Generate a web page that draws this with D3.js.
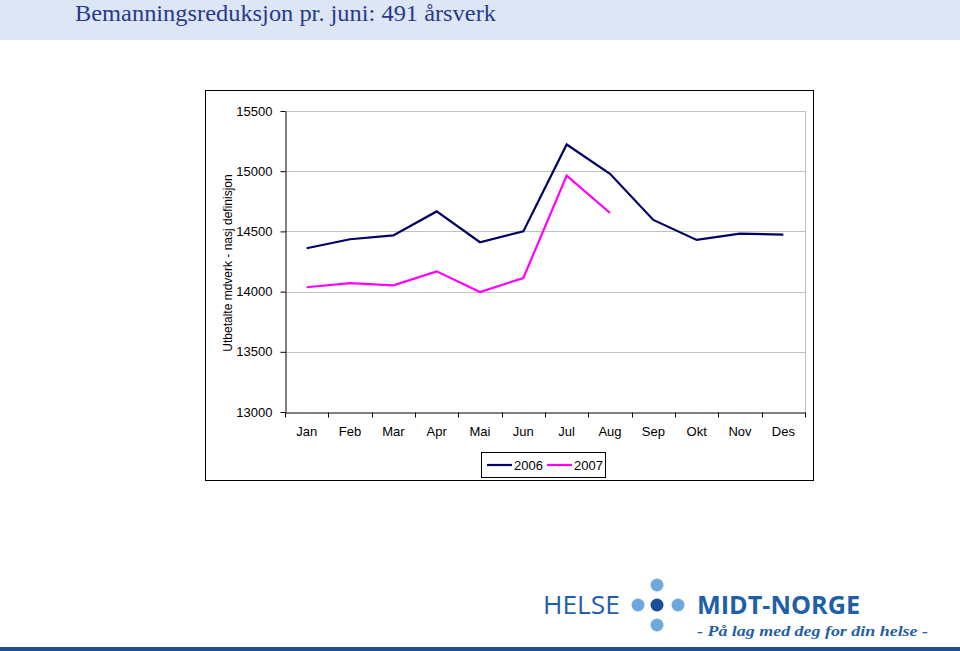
<!DOCTYPE html>
<html><head><meta charset="utf-8">
<script src="https://cdn.jsdelivr.net/npm/d3@7"></script>
<style>body{margin:0;background:#fff}svg{display:block}</style>
</head><body>
<svg id="c" width="960" height="651"></svg>
<script>
const months = ["Jan","Feb","Mar","Apr","Mai","Jun","Jul","Aug","Sep","Okt","Nov","Des"];
const values2006 = [14360,14435,14467,14666,14410,14500,15222,14978,14595,14429,14482,14473];
const values2007 = [14036,14071,14052,14168,13997,14113,14963,14653];
const yTicks = [13000,13500,14000,14500,15000,15500];
const seriesNames = ["2006","2007"];
const seriesColors = ["#000066","#ff00ff"];

(function(){
const svg = d3.select("#c");
svg.append("rect").attr("x",0).attr("y",0).attr("width",960).attr("height",40).attr("fill","#dce6f4");
svg.append("text").attr("x",75).attr("y",21).attr("font-family","Liberation Serif, serif")
  .attr("font-size",23).attr("fill","#283a8c").attr("textLength",421).attr("lengthAdjust","spacingAndGlyphs")
  .text("Bemanningsreduksjon pr. juni: 491 årsverk");

svg.append("rect").attr("x",205.5).attr("y",90.5).attr("width",608).attr("height",390)
  .attr("fill","#fff").attr("stroke","#000").attr("stroke-width",1);

const pL=285, pR=805, pT=111, pB=412;
const x = d3.scaleBand().domain(months).range([pL,pR]);
const y = d3.scaleLinear().domain([13000,15500]).range([pB,pT]);

const g = svg.append("g");
g.selectAll("line.grid").data(yTicks.filter(d=>d>13000)).enter().append("line")
  .attr("x1",pL).attr("x2",pR).attr("y1",d=>Math.round(y(d))+0.5).attr("y2",d=>Math.round(y(d))+0.5)
  .attr("stroke","#c0c0c0").attr("stroke-width",1);
g.append("line").attr("x1",pR+0.5).attr("x2",pR+0.5).attr("y1",pT).attr("y2",pB).attr("stroke","#c0c0c0");

const yAxis = d3.axisLeft(y).tickValues(yTicks).tickFormat(d3.format("d")).tickSize(5).tickSizeOuter(0).tickPadding(8);
const ya = svg.append("g").attr("transform",`translate(${pL+0.5},0)`).call(yAxis)
  .attr("font-family","Liberation Sans, Arial, sans-serif").attr("font-size",13);
ya.selectAll("text").attr("fill","#000");
ya.selectAll("line,path").attr("stroke","#000");

const xAxis = d3.axisBottom(x).tickSize(0).tickPadding(14);
const xa = svg.append("g").attr("transform",`translate(0,${pB+0.5})`).call(xAxis)
  .attr("font-family","Liberation Sans, Arial, sans-serif").attr("font-size",13);
xa.select(".domain").attr("stroke","#000");
xa.selectAll("text").attr("fill","#000");
xa.selectAll("line.b").data(months.concat(["end"])).enter().append("line")
  .attr("x1",(d,i)=>Math.round(pL + i*x.step())+0.5).attr("x2",(d,i)=>Math.round(pL + i*x.step())+0.5)
  .attr("y1",0).attr("y2",5).attr("stroke","#000");

svg.append("text").attr("transform","translate(232,263) rotate(-90)").attr("text-anchor","middle")
  .attr("font-family","Liberation Sans, Arial, sans-serif").attr("font-size",12).attr("fill","#000")
  .text("Utbetalte mdverk - nasj definisjon");

const line = d3.line().x((d,i)=>x(months[i])+x.bandwidth()/2).y(d=>y(d));
[values2006, values2007].forEach((vals,k)=>{
  svg.append("path").datum(vals).attr("d",line).attr("fill","none")
    .attr("stroke",seriesColors[k]).attr("stroke-width",2.2).attr("stroke-linejoin","miter");
});

const lg = svg.append("g");
lg.append("rect").attr("x",481.5).attr("y",452.5).attr("width",124).attr("height",25).attr("fill","#fff").attr("stroke","#000");
seriesNames.forEach((n,k)=>{
  const lx = 487 + k*60;
  lg.append("line").attr("x1",lx).attr("x2",lx+25).attr("y1",465).attr("y2",465).attr("stroke",seriesColors[k]).attr("stroke-width",2.2);
  lg.append("text").attr("x",lx+27).attr("y",470).attr("font-family","Liberation Sans, Arial, sans-serif")
    .attr("font-size",13).attr("fill","#000").text(n);
});

const logo = svg.append("g");
logo.append("text").attr("x",543).attr("y",614).attr("font-family","Open Sans, Liberation Sans, sans-serif")
  .attr("font-size",25).attr("fill","#1f5fa8").attr("textLength",77).attr("lengthAdjust","spacingAndGlyphs").text("HELSE");
const dots = [[638,605,"#6fa8dc"],[678,605,"#6fa8dc"],[657,585,"#6fa8dc"],[657,625,"#6fa8dc"],[657,605,"#1a4e95"]];
dots.forEach(d=>logo.append("circle").attr("cx",d[0]).attr("cy",d[1]).attr("r",6.5).attr("fill",d[2]));
logo.append("text").attr("x",697).attr("y",614).attr("font-family","Open Sans, Liberation Sans, sans-serif")
  .attr("font-weight","bold").attr("font-size",25).attr("fill","#1f5fa8").attr("textLength",163).attr("lengthAdjust","spacingAndGlyphs").text("MIDT-NORGE");
logo.append("text").attr("x",697).attr("y",636).attr("font-family","Liberation Serif, serif")
  .attr("font-style","italic").attr("font-weight","bold").attr("font-size",15).attr("fill","#1f5fa8")
  .attr("textLength",231).attr("lengthAdjust","spacingAndGlyphs").text("- På lag med deg for din helse -");
svg.append("rect").attr("x",0).attr("y",647).attr("width",960).attr("height",4).attr("fill","#1d4f91");
})();
</script>
</body></html>
